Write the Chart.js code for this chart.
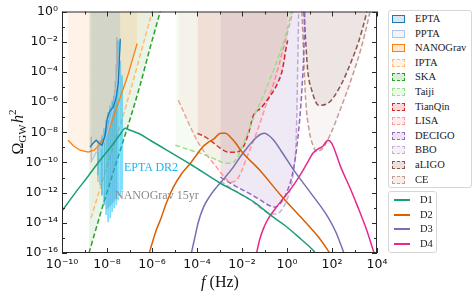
<!DOCTYPE html>
<html><head><meta charset="utf-8">
<script src="https://cdn.jsdelivr.net/npm/chart.js@4.4.1/dist/chart.umd.min.js"></script>
<style>
body{margin:0;background:#fff;}
#wrap{position:relative;width:476px;height:296px;overflow:hidden;}
#c{position:absolute;left:0;top:0;}
.serif{font-family:"Liberation Serif","DejaVu Serif",serif;}
#ytitle{position:absolute;left:17px;top:132px;transform:translate(-50%,-50%) rotate(-90deg);font-size:16px;white-space:nowrap;color:#111;}
#ytitle sub{font-size:11px;vertical-align:-3px;}
#ytitle sup{font-size:11px;vertical-align:7px;}
#xtitle{position:absolute;left:220px;top:282px;transform:translate(-50%,-50%);font-size:16px;white-space:nowrap;color:#111;}
.leg{position:absolute;border:1px solid #d6d6d6;border-radius:3px;background:#fff;font-size:10.5px;color:#1a1a1a;box-sizing:border-box;}
.item{position:absolute;left:0;height:14px;line-height:14px;white-space:nowrap;}
.sw{position:absolute;left:3px;top:3px;width:13px;height:8px;box-sizing:border-box;}
.ln{position:absolute;left:5px;top:6px;width:16px;height:0;border-top:2px solid;}
.ann{position:absolute;font-size:12px;white-space:nowrap;line-height:12px;}
</style>
</head>
<body>
<div id="wrap">
<canvas id="c" width="476" height="296"></canvas>
<div id="ytitle" class="serif">Ω<sub>GW</sub>&#8202;<i>h</i><sup>2</sup></div>
<div id="xtitle" class="serif"><i>f</i> (Hz)</div>
<div class="ann serif" style="left:124px;top:161px;color:#1ab4f2;">EPTA DR2</div>
<div class="ann serif" style="left:115px;top:189px;color:#8a8a8a;">NANOGrav 15yr</div>
<div id="leg1" class="leg serif" style="left:388px;top:10px;width:84px;height:178px;"></div>
<div id="leg2" class="leg serif" style="left:388px;top:191px;width:49px;height:62px;"></div>
</div>
<script>
// ---- axis ticks (log10 values) ----
const xTickValues = [-10,-9,-8,-7,-6,-5,-4,-3,-2,-1,0,1,2,3,4];
const yTickValues = [-16,-15,-14,-13,-12,-11,-10,-9,-8,-7,-6,-5,-4,-3,-2,-1,0];

// ---- model spectra: log10 f (Hz) and log10 Omega_GW h^2 ----
const d1LogF = [-10,-9.42,-8.84,-8.31,-7.77,-7.41,-7.19,-6.97,-6.52,-6.08,-4.29,-2.96,-2.06,-1.40,-0.73,-0.06,0.61,1.15,1.32];
const d1LogOmega = [-13.22,-12.03,-10.91,-9.85,-8.86,-8.13,-7.74,-7.87,-8.13,-8.53,-10.12,-11.38,-12.10,-12.69,-13.49,-14.21,-15.07,-15.80,-16.13];
const d2LogF = [-6.12,-5.99,-5.81,-5.63,-5.36,-5.05,-4.70,-4.29,-4.03,-3.76,-3.49,-3.22,-2.96,-2.73,-2.51,-2.24,-2.06,-1.17,-0.28,0.61,1.50,1.90];
const d2LogOmega = [-16.0,-15.34,-14.48,-13.82,-12.69,-11.64,-10.78,-10.05,-9.52,-8.99,-8.66,-8.40,-8.07,-8.07,-8.33,-8.79,-9.19,-10.58,-12.17,-13.62,-15.14,-16.0];
const d3LogF = [-4.25,-4.12,-3.94,-3.71,-3.40,-3.09,-2.78,-2.42,-2.06,-1.75,-1.40,-1.17,-0.99,-0.82,-0.59,-0.28,0.30,1.06,1.82,2.17,2.53];
const d3LogOmega = [-16.0,-15.14,-13.95,-12.96,-12.17,-11.57,-11.04,-10.38,-9.59,-8.99,-8.40,-8.13,-8.07,-8.20,-8.53,-9.19,-10.51,-12.03,-13.62,-14.61,-16.0];
const d4LogF = [-1.35,-1.22,-1.04,-0.82,-0.50,-0.15,0.26,0.61,0.92,1.15,1.37,1.59,1.82,1.99,2.39,2.84,3.15,3.51,3.87];
const d4LogOmega = [-16.0,-15.14,-14.35,-13.69,-13.02,-12.36,-11.57,-10.78,-9.98,-9.39,-9.12,-8.93,-8.53,-8.73,-10.31,-11.83,-12.96,-14.35,-16.0];

// ---- PTA sensitivity ----
const eptaLogF = [-8.75,-8.62,-8.48,-8.35,-8.22,-8.08,-7.99,-7.86,-7.73,-7.59,-7.50,-7.46,-7.41];
const eptaLogOmega = [-8.99,-8.73,-8.53,-8.73,-8.86,-8.20,-7.07,-6.55,-6.35,-5.69,-4.76,-3.50,-1.80];
const pptaLogF = [-8.66,-8.48,-8.31,-8.13,-7.95,-7.77,-7.64,-7.55,-7.46,-7.40];
const pptaLogOmega = [-9.85,-9.32,-9.19,-8.66,-7.87,-6.74,-5.69,-4.56,-2.91,-1.90];
const nanoLogF = [-9.73,-9.47,-9.20,-8.84,-8.57,-8.31,-7.95,-7.68,-7.41,-7.10,-6.88,-6.66];
const nanoLogOmega = [-8.53,-8.93,-9.19,-9.32,-9.19,-8.79,-8.00,-6.88,-5.69,-4.36,-3.24,-2.12];
const iptaLogF = [-8.71,-8.22,-7.77,-7.41,-6.88,-6.43,-6.12,-5.99];
const iptaLogOmega = [-13.69,-11.31,-9.19,-7.54,-4.83,-2.38,-0.73,0];
const skaLogF = [-8.80,-8.31,-7.86,-7.41,-7.06,-6.52,-6.08,-5.77,-5.63];
const skaLogOmega = [-16.0,-13.49,-11.31,-9.19,-7.54,-4.83,-2.38,-0.73,0];

// ---- space / ground detectors ----
const taijiLogF = [-4.96,-4.29,-3.62,-3.09,-2.73,-2.47,-2.20,-1.98,-1.75,-1.40,-0.95,-0.50,-0.10,0.21];
const taijiLogOmega = [-8.86,-9.19,-9.52,-9.85,-10.05,-10.05,-9.65,-8.93,-8.07,-6.74,-5.22,-3.50,-1.79,0];
const lisaLogF = [-4.83,-4.47,-4.16,-3.85,-3.49,-3.13,-2.78,-2.51,-2.24,-2.02,-1.80,-1.53,-1.31,-0.95,-0.59,-0.15,0.26];
const lisaLogOmega = [-5.88,-7.07,-8.07,-8.93,-9.65,-10.31,-10.98,-11.31,-11.17,-10.58,-9.72,-8.73,-7.87,-6.28,-4.76,-2.38,0];
const tianqinLogF = [-3.98,-3.62,-3.31,-2.96,-2.60,-2.24,-1.93,-1.71,-1.49,-1.17,-0.82,-0.42,-0.19,-0.06,0.03];
const tianqinLogOmega = [-8.07,-8.33,-8.66,-9.06,-9.32,-9.32,-8.93,-8.07,-6.88,-6.41,-5.75,-4.76,-3.77,-2.58,-1.92];
const decigoLogF = [-2.96,-2.29,-1.62,-1.17,-0.82,-0.55,-0.28,-0.01,0.21,0.39,0.48,0.57,0.66,0.75,0.79];
const decigoLogOmega = [-10.98,-11.57,-12.10,-12.50,-12.83,-12.96,-12.69,-11.97,-10.98,-9.52,-8.40,-7.07,-5.22,-2.58,0];
const bboLogF = [-2.96,-2.29,-1.62,-1.17,-0.82,-0.50,-0.24,-0.01,0.17,0.30,0.39,0.43,0.48,0.52];
const bboLogOmega = [-11.24,-11.90,-12.50,-13.02,-13.36,-13.42,-13.16,-12.50,-11.64,-10.51,-9.06,-7.21,-3.24,0];
const aligoLogF = [0.75,0.83,0.92,1.10,1.41,1.82,2.39,2.84,3.20,3.51,3.55];
const aligoLogOmega = [0,-1.92,-3.90,-5.22,-6.21,-6.08,-4.89,-3.37,-1.92,-0.26,0];
const ceLogF = [0.66,0.75,0.83,0.97,1.15,1.32,1.59,1.95,2.39,2.84,3.29,3.55,3.69];
const ceLogOmega = [0,-3.24,-5.88,-7.74,-8.86,-9.26,-9.06,-8.07,-6.41,-4.56,-2.45,-0.93,0];

// ---- free-spectrum violins (log10 f, lower / upper log10 Omega) ----
const eptaDr2LogF = [-8.40,-8.31,-8.22,-8.13,-8.04,-7.95,-7.86,-7.77,-7.68,-7.59,-7.50,-7.41,-7.33];
const eptaDr2Low = [-10.85,-11.51,-12.17,-12.83,-13.49,-13.96,-13.69,-13.29,-13.03,-12.83,-12.50,-12.24,-11.84];
const eptaDr2High = [-9.06,-8.53,-8.20,-7.74,-7.21,-6.68,-6.22,-5.89,-5.56,-4.89,-1.92,-3.24,-4.23];
const ng15LogF = [-8.70,-8.40,-8.23,-8.10,-8.00,-7.93,-7.86,-7.80,-7.75,-7.70,-7.66,-7.63,-7.59,-7.56];
const ng15Low = [-10.0,-11.3,-12.2,-12.8,-13.1,-13.0,-12.9,-12.8,-12.7,-12.6,-12.5,-12.4,-12.3,-12.2];
const ng15High = [-8.3,-8.6,-8.4,-8.0,-7.6,-7.2,-6.8,-6.4,-6.0,-5.6,-5.2,-4.6,-3.5,-1.7];

function pts(xs, ys){ return xs.map((x,i)=>({x:x, y:ys[i]})); }
function violin(fs, lo, hi){ const o=[]; fs.forEach((f,i)=>{ o.push({x:f,y:lo[i]},{x:f,y:hi[i]},{x:f,y:null}); }); return o; }
function rgba(hex,a){ const n=parseInt(hex.slice(1),16); return `rgba(${n>>16&255},${n>>8&255},${n&255},${a})`; }

const regionAlpha = 0.1;
const regions = [
  {label:'EPTA', x:eptaLogF, y:eptaLogOmega, color:'#1f77b4', dashed:false},
  {label:'PPTA', x:pptaLogF, y:pptaLogOmega, color:'#aec7e8', dashed:false},
  {label:'NANOGrav', x:nanoLogF, y:nanoLogOmega, color:'#ff7f0e', dashed:false},
  {label:'IPTA', x:iptaLogF, y:iptaLogOmega, color:'#ffbb78', dashed:true},
  {label:'SKA', x:skaLogF, y:skaLogOmega, color:'#2ca02c', dashed:true},
  {label:'Taiji', x:taijiLogF, y:taijiLogOmega, color:'#98df8a', dashed:true},
  {label:'TianQin', x:tianqinLogF, y:tianqinLogOmega, color:'#d62728', dashed:true},
  {label:'LISA', x:lisaLogF, y:lisaLogOmega, color:'#ff9896', dashed:true},
  {label:'DECIGO', x:decigoLogF, y:decigoLogOmega, color:'#9467bd', dashed:true},
  {label:'BBO', x:bboLogF, y:bboLogOmega, color:'#c5b0d5', dashed:true},
  {label:'aLIGO', x:aligoLogF, y:aligoLogOmega, color:'#8c564b', dashed:true},
  {label:'CE', x:ceLogF, y:ceLogOmega, color:'#c49c94', dashed:true}
];
const models = [
  {label:'D1', x:d1LogF, y:d1LogOmega, color:'#1b9e77'},
  {label:'D2', x:d2LogF, y:d2LogOmega, color:'#d95f02'},
  {label:'D3', x:d3LogF, y:d3LogOmega, color:'#7570b3'},
  {label:'D4', x:d4LogF, y:d4LogOmega, color:'#e7298a'}
];

const datasets = [];
models.forEach(m=>datasets.push({label:m.label, data:pts(m.x,m.y), showLine:true, borderColor:m.color, borderWidth:1.5, pointRadius:0, fill:false, cubicInterpolationMode:'monotone'}));
regions.filter(r=>!r.dashed).forEach(r=>datasets.push({label:r.label+' line', data:pts(r.x,r.y), showLine:true, borderColor:r.color, borderWidth:1.3, pointRadius:0, fill:false, tension:0}));
datasets.push({label:'EPTA DR2', data:violin(eptaDr2LogF,eptaDr2Low,eptaDr2High), showLine:true, spanGaps:false, borderColor:'rgba(0,190,255,0.5)', borderWidth:1.8, pointRadius:0, fill:false});
datasets.push({label:'NANOGrav 15yr', data:violin(ng15LogF,ng15Low,ng15High), showLine:true, spanGaps:false, borderColor:'rgba(120,120,120,0.4)', borderWidth:1.5, pointRadius:0, fill:false});
regions.forEach(r=>datasets.push({label:r.label, data:pts(r.x,r.y), showLine:true, borderColor:r.dashed?r.color:'rgba(0,0,0,0)', borderWidth:1.5, borderDash:r.dashed?[5,2.6]:[], pointRadius:0, fill:'end', backgroundColor:rgba(r.color,regionAlpha), cubicInterpolationMode:r.dashed?'monotone':'default', tension:0}));

const sup = s => String(s).split('').map(ch=>({'-':'\u207b','0':'\u2070','1':'\u00b9','2':'\u00b2','3':'\u00b3','4':'\u2074','5':'\u2075','6':'\u2076','7':'\u2077','8':'\u2078','9':'\u2079'}[ch]||ch)).join('');
const tickLabel = v => (Math.round(v)%2===0) ? '10'+sup(Math.round(v)) : '';

const frame = {
  id:'frame',
  afterDatasetsDraw(chart){
    const {ctx, chartArea:a, scales:{x,y}} = chart;
    ctx.save();
    ctx.strokeStyle='#2a2a2a'; ctx.lineWidth=1;
    ctx.beginPath();
    xTickValues.forEach(v=>{ const px=Math.round(x.getPixelForValue(v))+0.5; const L=(v%2===0)?5:3;
      ctx.moveTo(px,a.bottom); ctx.lineTo(px,a.bottom-L); ctx.moveTo(px,a.top); ctx.lineTo(px,a.top+L); });
    yTickValues.forEach(v=>{ const py=Math.round(y.getPixelForValue(v))+0.5; const L=(v%2===0)?5:3;
      ctx.moveTo(a.left,py); ctx.lineTo(a.left+L,py); ctx.moveTo(a.right,py); ctx.lineTo(a.right-L,py); });
    ctx.stroke();
    ctx.strokeRect(a.left+0.5,a.top+0.5,a.right-a.left-1,a.bottom-a.top-1);
    ctx.restore();
  }
};

new Chart(document.getElementById('c'), {
  type:'scatter',
  data:{datasets},
  options:{
    responsive:false, animation:false, devicePixelRatio:1,
    layout:{padding:{left:0,right:99,top:11,bottom:0}},
    plugins:{legend:{display:false}, tooltip:{enabled:false}},
    elements:{point:{radius:0}},
    scales:{
      x:{type:'linear', min:-10, max:4,
         afterFit(s){ s.height=43; },
         afterBuildTicks(s){ s.ticks = xTickValues.map(v=>({value:v})); },
         grid:{display:false, drawTicks:false}, border:{display:false},
         ticks:{autoSkip:false, maxRotation:0, minRotation:0, padding:4, color:'#111', font:{family:'DejaVu Sans', size:12.5}, callback:tickLabel}},
      y:{type:'linear', min:-16, max:0,
         afterFit(s){ s.width=62; },
         afterBuildTicks(s){ s.ticks = yTickValues.map(v=>({value:v})); },
         grid:{display:false, drawTicks:false}, border:{display:false},
         ticks:{autoSkip:false, padding:4, color:'#111', font:{family:'DejaVu Sans', size:12.5}, callback:tickLabel}}
    }
  },
  plugins:[frame]
});

// ---- HTML legends ----
const leg1 = document.getElementById('leg1');
regions.forEach((r,i)=>{
  const it=document.createElement('div'); it.className='item'; it.style.top=(1+i*14.6)+'px'; it.style.width='100%';
  const sw=document.createElement('span'); sw.className='sw';
  sw.style.border=(r.dashed?'1.4px dashed ':'1.5px solid ')+r.color; sw.style.background=rgba(r.color,0.18);
  const tx=document.createElement('span'); tx.style.position='absolute'; tx.style.left='26px'; tx.textContent=r.label;
  it.appendChild(sw); it.appendChild(tx); leg1.appendChild(it);
});
const leg2 = document.getElementById('leg2');
models.forEach((m,i)=>{
  const it=document.createElement('div'); it.className='item'; it.style.top=(1+i*14.5)+'px'; it.style.width='100%';
  const ln=document.createElement('span'); ln.className='ln'; ln.style.borderTopColor=m.color;
  const tx=document.createElement('span'); tx.style.position='absolute'; tx.style.left='31px'; tx.textContent=m.label;
  it.appendChild(ln); it.appendChild(tx); leg2.appendChild(it);
});
</script>
</body></html>
